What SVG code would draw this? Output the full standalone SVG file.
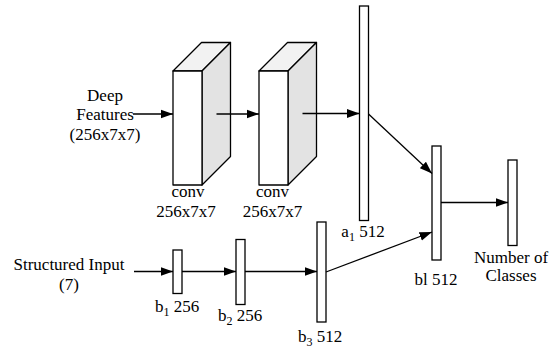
<svg xmlns="http://www.w3.org/2000/svg" width="551" height="350" viewBox="0 0 551 350">
<style>
.t{font-family:"Liberation Serif","Times New Roman",serif;font-size:17px;fill:#000;text-anchor:middle}
.s{font-size:12px}
.bar{fill:#fff;stroke:#000;stroke-width:1.3}
.front{fill:#fff;stroke:#000;stroke-width:1.3;stroke-linejoin:round}
.top{fill:#f2f2f2;stroke:#000;stroke-width:1.3;stroke-linejoin:round}
.side{fill:#e3e3e3;stroke:#000;stroke-width:1.3;stroke-linejoin:round}
.c{stroke:#000;stroke-width:1.3;fill:none;marker-end:url(#ah)}
</style>
<defs>
<marker id="ah" markerUnits="userSpaceOnUse" markerWidth="13" markerHeight="10" refX="12.5" refY="5" orient="auto">
<path d="M0,0.5 L12.5,5 L0,9.5 Z" fill="#000"/>
</marker>
</defs>
<g id="deep-features"><text class="t" x="105" y="101">Deep</text><text class="t" x="105" y="120">Features</text><text class="t" x="105" y="139.5">(256x7x7)</text></g>
<g id="conv1">
<polygon class="top" points="173,71 201.5,42.5 230.5,42.5 202,71"/>
<polygon class="side" points="202,71 230.5,42.5 230.5,156.5 202,185"/>
<rect class="front" x="173" y="71" width="29" height="114"/>
<text class="t" x="188" y="197">conv</text><text class="t" x="186" y="217">256x7x7</text>
</g>
<g id="conv2">
<polygon class="top" points="259,71 287.5,42.5 316.5,42.5 288,71"/>
<polygon class="side" points="288,71 316.5,42.5 316.5,156.5 288,185"/>
<rect class="front" x="259" y="71" width="29" height="114"/>
<text class="t" x="272.5" y="197">conv</text><text class="t" x="272.5" y="217">256x7x7</text>
</g>
<g id="a1"><rect class="bar" x="359.5" y="6" width="9" height="214.5"/><text class="t" x="363" y="237">a<tspan class="s" dy="4">1</tspan><tspan dy="-4"> 512</tspan></text></g>
<g id="bl"><rect class="bar" x="432" y="146" width="9" height="114"/><text class="t" x="436" y="285">bl 512</text></g>
<g id="out"><rect class="bar" x="508" y="160" width="9" height="85.5"/><text class="t" x="511" y="262.5">Number of</text><text class="t" x="511" y="281">Classes</text></g>
<g id="structured-input"><text class="t" x="69" y="270">Structured Input</text><text class="t" x="69" y="290">(7)</text></g>
<g id="b1"><rect class="bar" x="173" y="250" width="9" height="43.5"/><text class="t" x="177" y="311.5">b<tspan class="s" dy="4">1</tspan><tspan dy="-4"> 256</tspan></text></g>
<g id="b2"><rect class="bar" x="236" y="239.5" width="9" height="65"/><text class="t" x="240" y="320.5">b<tspan class="s" dy="4">2</tspan><tspan dy="-4"> 256</tspan></text></g>
<g id="b3"><rect class="bar" x="317" y="222" width="9" height="100"/><text class="t" x="320" y="341.5">b<tspan class="s" dy="4">3</tspan><tspan dy="-4"> 512</tspan></text></g>
<g id="connectors">
<line class="c" x1="133" y1="114" x2="173" y2="114"/>
<line class="c" x1="216.5" y1="114" x2="259" y2="114"/>
<line class="c" x1="302.5" y1="113.5" x2="359.5" y2="113.5"/>
<line class="c" x1="368.5" y1="114" x2="432" y2="173.5"/>
<line class="c" x1="441" y1="202.5" x2="508" y2="202.5"/>
<line class="c" x1="134" y1="271.5" x2="173" y2="271.5"/>
<line class="c" x1="182" y1="271.5" x2="236" y2="271.5"/>
<line class="c" x1="245" y1="271.5" x2="317" y2="271.5"/>
<line class="c" x1="326" y1="272" x2="432" y2="232"/>
</g>
</svg>
